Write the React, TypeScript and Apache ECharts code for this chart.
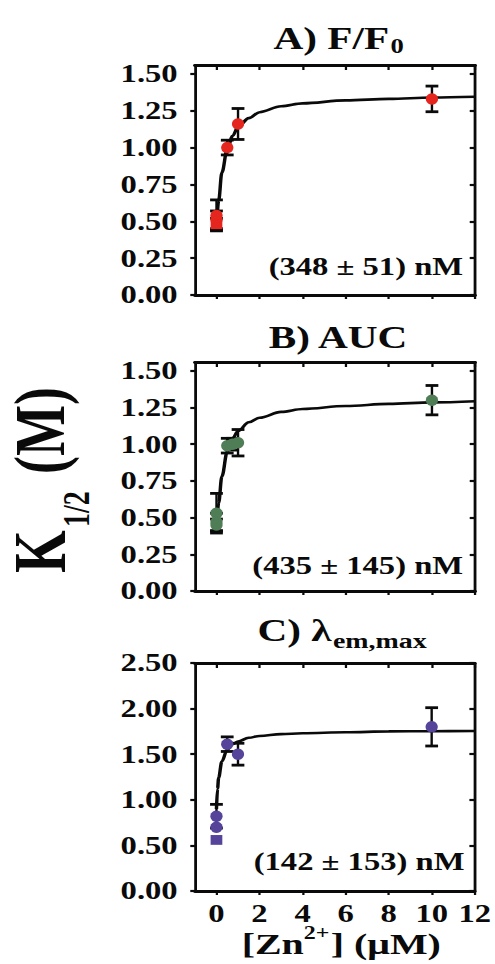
import React, { useEffect, useRef } from 'react';
import * as echarts from 'echarts';

// The reference figure is stretched horizontally; we draw in a narrower
// internal space and stretch the chart with CSS.
const INNER_W = 372;
const STRETCH = 495 / INNER_W;
const FONT = 'Liberation Serif';
const INK = '#0a0a0a';

const xTicks = [0, 2, 4, 6, 8, 10, 12];
const yTicksAB = [0, 0.25, 0.5, 0.75, 1.0, 1.25, 1.5];
const yTicksC = [0, 0.5, 1.0, 1.5, 2.0, 2.5];

// Panel A) F/F0
const aX = [0, 0, 0, 0.5, 1, 10];
const aY = [0.54, 0.51, 0.48, 1.0, 1.16, 1.33];
const aErr = [0.105, 0.06, 0.04, 0.05, 0.105, 0.087];
const aSym = ['circle', 'circle', 'rect', 'circle', 'circle', 'circle'];
const aFitX = [0, 0.1, 0.25, 0.5, 0.75, 1, 1.5, 2, 3, 4, 6, 8, 10, 12];
const aFitY = [0.45, 0.64, 0.83, 0.99, 1.08, 1.14, 1.2, 1.24, 1.28, 1.3, 1.32, 1.33, 1.34, 1.345];

// Panel B) AUC
const bX = [0, 0, 0, 0.5, 0.75, 1, 10];
const bY = [0.53, 0.47, 0.45, 0.99, 1.0, 1.01, 1.3];
const bErr = [0.135, 0.06, 0.04, 0.05, 0.04, 0.09, 0.1];
const bSym = ['circle', 'circle', 'circle', 'circle', 'circle', 'circle', 'circle'];
const bFitX = [0, 0.1, 0.25, 0.5, 0.75, 1, 1.5, 2, 3, 4, 6, 8, 10, 12];
const bFitY = [0.42, 0.6, 0.78, 0.95, 1.04, 1.09, 1.15, 1.18, 1.22, 1.24, 1.26, 1.275, 1.285, 1.293];

// Panel C) lambda em,max
const cX = [0, 0, 0, 0.5, 1, 10];
const cY = [0.82, 0.7, 0.56, 1.61, 1.5, 1.8];
const cErr = [0.13, 0, 0, 0.08, 0.12, 0.21];
const cSym = ['circle', 'circle', 'rect', 'circle', 'circle', 'circle'];
const cFitX = [0, 0.05, 0.1, 0.25, 0.5, 0.75, 1, 1.5, 2, 3, 4, 6, 8, 10, 12];
const cFitY = [0.9, 1.12, 1.24, 1.42, 1.55, 1.61, 1.64, 1.68, 1.7, 1.72, 1.73, 1.74, 1.75, 1.752, 1.755];

const colors = ['#e5261f', '#4f7d55', '#55449a'];
const kLabels = ['(348 ± 51) nM', '(435 ± 145) nM', '(142 ± 153) nM'];

function measure(text: string, size: number): number {
  const ctx = document.createElement('canvas').getContext('2d');
  if (!ctx) return text.length * size * 0.5;
  ctx.font = `bold ${size}px "${FONT}"`;
  return ctx.measureText(text).width;
}

function txt(text: string, x: number, y: number, size: number, align = 'left', extra: any = {}) {
  return {
    type: 'text',
    x,
    y,
    silent: true,
    style: {
      text,
      fontSize: size,
      fontFamily: FONT,
      fontWeight: 'bold',
      fill: INK,
      align,
      verticalAlign: 'middle',
      textAlign: align,
      textVerticalAlign: 'middle',
    },
    ...extra,
  };
}

const App: React.FC = () => {
  const ref = useRef<HTMLDivElement>(null);

  useEffect(() => {
    if (!ref.current) return;
    const chart = echarts.init(ref.current, undefined, { renderer: 'svg' });

    const gridLeft = 146.5;
    const gridRight = 15;
    const grids = [
      { top: 65, height: 230 },
      { top: 362, height: 229 },
      { top: 663, height: 228 },
    ];
    const yMax = [1.56, 1.56, 2.5];
    const yTicks = [yTicksAB, yTicksAB, yTicksC];

    const labelStyle = {
      fontSize: 24.5,
      fontFamily: FONT,
      fontWeight: 'bold',
      color: INK,
    };

    const xAxes: any[] = [];
    const yAxes: any[] = [];
    grids.forEach((g, gi) => {
      const last = gi === grids.length - 1;
      xAxes.push({
        gridIndex: gi,
        type: 'value',
        min: -1,
        max: 12,
        position: 'bottom',
        axisLine: { show: true, onZero: false, lineStyle: { color: INK, width: 2.8 } },
        axisTick: { show: true, inside: false, length: 4, customValues: xTicks, lineStyle: { color: INK, width: 1.7 } },
        axisLabel: { show: last, customValues: xTicks, margin: 10, ...labelStyle },
        splitLine: { show: false },
      });
      xAxes.push({
        gridIndex: gi,
        type: 'value',
        min: -1,
        max: 12,
        position: 'top',
        axisLine: { show: true, onZero: false, lineStyle: { color: INK, width: 2.8 } },
        axisTick: { show: true, inside: true, length: 5, customValues: xTicks, lineStyle: { color: INK, width: 1.7 } },
        axisLabel: { show: false },
        splitLine: { show: false },
      });
      yAxes.push({
        gridIndex: gi,
        type: 'value',
        min: 0,
        max: yMax[gi],
        position: 'left',
        axisLine: { show: true, onZero: false, lineStyle: { color: INK, width: 2.1 } },
        axisTick: { show: true, inside: false, length: 3.5, customValues: yTicks[gi], lineStyle: { color: INK, width: 2.2 } },
        axisLabel: {
          show: true,
          customValues: yTicks[gi],
          margin: 13,
          formatter: (v: number) => v.toFixed(2),
          ...labelStyle,
        },
        splitLine: { show: false },
      });
      yAxes.push({
        gridIndex: gi,
        type: 'value',
        min: 0,
        max: yMax[gi],
        position: 'right',
        axisLine: { show: true, onZero: false, lineStyle: { color: INK, width: 2.1 } },
        axisTick: { show: true, inside: true, length: 4, customValues: yTicks[gi], lineStyle: { color: INK, width: 2.2 } },
        axisLabel: { show: false },
        splitLine: { show: false },
      });
    });

    const panels = [
      { x: aX, y: aY, err: aErr, sym: aSym, fx: aFitX, fy: aFitY },
      { x: bX, y: bY, err: bErr, sym: bSym, fx: bFitX, fy: bFitY },
      { x: cX, y: cY, err: cErr, sym: cSym, fx: cFitX, fy: cFitY },
    ];

    const series: any[] = [];
    panels.forEach((p, gi) => {
      series.push({
        type: 'line',
        xAxisIndex: gi * 2,
        yAxisIndex: gi * 2,
        data: p.fx.map((x, i) => [x, p.fy[i]]),
        symbol: 'none',
        showSymbol: false,
        smooth: 0.35,
        smoothMonotone: 'x',
        lineStyle: { color: INK, width: 2.6 },
        z: 2,
        silent: true,
      });
      const errData = p.x
        .map((x, i) => [x, p.y[i] - p.err[i], p.y[i] + p.err[i], p.err[i]])
        .filter((d) => d[3] > 0)
        .map((d) => [d[0], d[1], d[2]]);
      series.push({
        type: 'custom',
        xAxisIndex: gi * 2,
        yAxisIndex: gi * 2,
        data: errData,
        encode: { x: 0, y: [1, 2] },
        z: 3,
        silent: true,
        renderItem: (_params: any, api: any) => {
          const x = api.value(0);
          const lo = api.coord([x, api.value(1)]);
          const hi = api.coord([x, api.value(2)]);
          const hw = 4.8;
          return {
            type: 'group',
            children: [
              { type: 'line', shape: { x1: lo[0], y1: lo[1], x2: hi[0], y2: hi[1] }, style: { stroke: INK, lineWidth: 1.8 } },
              { type: 'line', shape: { x1: lo[0] - hw, y1: lo[1], x2: lo[0] + hw, y2: lo[1] }, style: { stroke: INK, lineWidth: 2.8 } },
              { type: 'line', shape: { x1: hi[0] - hw, y1: hi[1], x2: hi[0] + hw, y2: hi[1] }, style: { stroke: INK, lineWidth: 2.8 } },
            ],
          };
        },
      });
      series.push({
        type: 'scatter',
        xAxisIndex: gi * 2,
        yAxisIndex: gi * 2,
        z: 4,
        silent: true,
        itemStyle: { color: colors[gi], opacity: 1 },
        data: p.x.map((x, i) => ({
          value: [x, p.y[i]],
          symbol: p.sym[i],
          symbolSize: p.sym[i] === 'rect' ? [8.8, 9.8] : [9.2, 11.5],
        })),
      });
    });

    // Titles
    const tSize = 31;
    const aMain = 'A) F/F';
    const aMainW = measure(aMain, tSize);
    const cMain = 'C) λ';
    const cMainW = measure(cMain, tSize);
    const aLeft = 205.5;
    const cLeft = 193.5;

    // X axis name
    const xn1 = '[Zn';
    const xn2 = '2+';
    const xn3 = '] (μM)';
    const xnS = 30;
    const xnSup = 18;
    const w1 = measure(xn1, xnS);
    const w2 = measure(xn2, xnSup);
    const w3 = measure(xn3, xnS);
    const xnStart = 256 - (w1 + w2 + w3) / 2;

    const graphic: any[] = [
      txt(aMain, aLeft, 38, tSize),
      txt('0', aLeft + aMainW + 1, 46.5, 20),
      txt('B) AUC', 254, 337.5, tSize, 'center'),
      txt(cMain, cLeft, 630.5, tSize),
      txt('em,max', cLeft + cMainW + 1, 641, 21),
      txt(kLabels[0], 348, 266.5, 24.5, 'right'),
      txt(kLabels[1], 348, 565.5, 24.5, 'right'),
      txt(kLabels[2], 349, 861.5, 24.5, 'right'),
      txt(xn1, xnStart, 944, xnS),
      txt(xn2, xnStart + w1, 933, xnSup),
      txt(xn3, xnStart + w1 + w2 + 1, 944, xnS),
      {
        type: 'group',
        x: 30,
        y: 573,
        rotation: Math.PI / 2,
        silent: true,
        children: [
          txt('K', 0, 0, 55),
          txt('1/2', 46, 27.5, 28),
          txt('(M)', 99, 0, 54),
        ],
      },
    ];

    chart.setOption({
      animation: false,
      backgroundColor: '#ffffff',
      grid: grids.map((g) => ({ left: gridLeft, right: gridRight, top: g.top, height: g.height, containLabel: false })),
      xAxis: xAxes,
      yAxis: yAxes,
      series,
      graphic,
    });

    return () => {
      chart.dispose();
    };
  }, []);

  return (
    <div
      ref={ref}
      style={{
        position: 'absolute',
        left: 0,
        top: 0,
        width: INNER_W,
        height: 964,
        transform: `scaleX(${STRETCH})`,
        transformOrigin: '0 0',
        background: '#ffffff',
      }}
    />
  );
};

export default App;
